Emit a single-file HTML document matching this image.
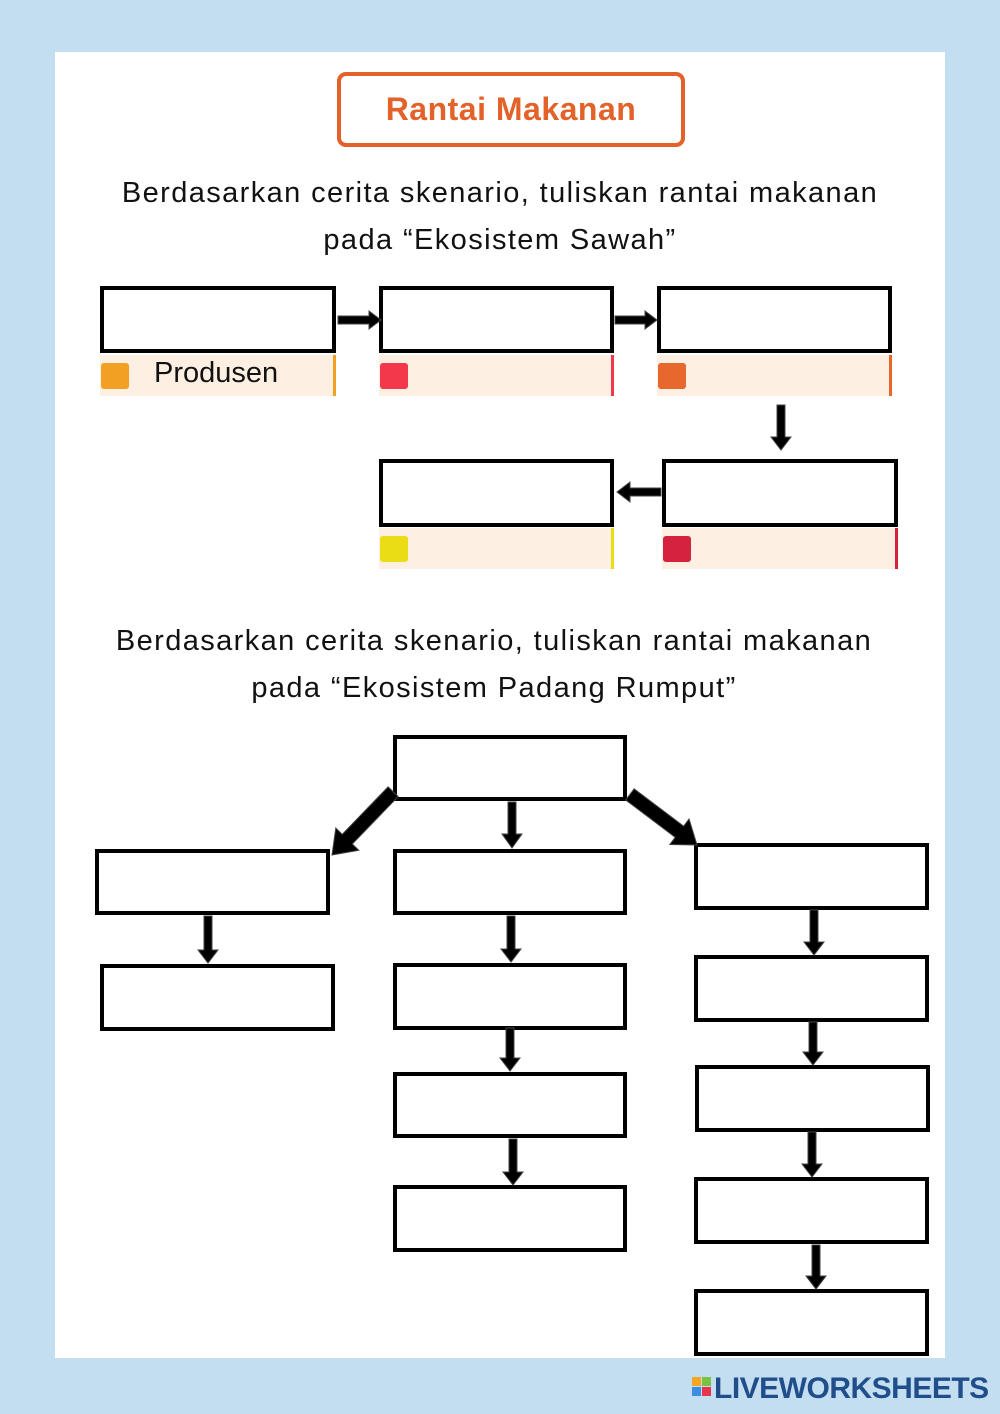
<!DOCTYPE html>
<html><head><meta charset="utf-8"><style>
html,body{margin:0;padding:0}
body{width:1000px;height:1414px;background:#c3ddf1;position:relative;overflow:hidden;font-family:"Liberation Sans",sans-serif}
.panel{position:absolute;left:55px;top:52px;width:890px;height:1306px;background:#fff}
.b{position:absolute;border:4px solid #000;box-sizing:border-box;background:#fff}
.lab{position:absolute;background:#fdf0e2;height:41px;box-sizing:border-box}
.sq{position:absolute;left:1px;top:8px;width:28px;height:26px;border-radius:3px}
.bar{position:absolute;right:0;top:0;width:3px;height:41px}
.t{position:absolute;left:0;width:1000px;text-align:center;font-size:29px;letter-spacing:1.4px;color:#111;line-height:47px}
</style></head><body>
<div class="panel"></div>
<div style="position:absolute;left:337px;top:72px;width:348px;height:75px;border:4px solid #e2622a;border-radius:9px;box-sizing:border-box;text-align:center;line-height:67px;color:#e2622a;font-weight:bold;font-size:32px;letter-spacing:0.5px">Rantai Makanan</div>
<div class="t" style="top:170px">Berdasarkan cerita skenario, tuliskan rantai makanan<br>pada “Ekosistem Sawah”</div>
<div class="t" style="top:618px;left:-6px">Berdasarkan cerita skenario, tuliskan rantai makanan<br>pada “Ekosistem Padang Rumput”</div>

<div class="b" style="left:100px;top:286px;width:236px;height:67px"></div>
<div class="b" style="left:379px;top:286px;width:235px;height:67px"></div>
<div class="b" style="left:657px;top:286px;width:235px;height:67px"></div>
<div class="lab" style="left:100px;top:355px;width:236px"><div class="sq" style="background:#f2a024"></div><div class="bar" style="background:#f2a024"></div><span style="position:absolute;left:54px;top:2px;font-size:29px;color:#111">Produsen</span></div>
<div class="lab" style="left:379px;top:355px;width:235px"><div class="sq" style="background:#f2384a"></div><div class="bar" style="background:#f2384a"></div></div>
<div class="lab" style="left:657px;top:355px;width:235px"><div class="sq" style="background:#e8672c"></div><div class="bar" style="background:#e8672c"></div></div>

<div class="b" style="left:379px;top:459px;width:235px;height:68px"></div>
<div class="b" style="left:662px;top:459px;width:236px;height:68px"></div>
<div class="lab" style="left:379px;top:528px;width:235px"><div class="sq" style="background:#ebdd15"></div><div class="bar" style="background:#ebdd15"></div></div>
<div class="lab" style="left:662px;top:528px;width:236px"><div class="sq" style="background:#d4223f"></div><div class="bar" style="background:#d4223f"></div></div>

<div class="b" style="left:393px;top:735px;width:234px;height:66px"></div>
<div class="b" style="left:95px;top:849px;width:235px;height:66px"></div>
<div class="b" style="left:100px;top:964px;width:235px;height:67px"></div>
<div class="b" style="left:393px;top:849px;width:234px;height:66px"></div>
<div class="b" style="left:393px;top:963px;width:234px;height:67px"></div>
<div class="b" style="left:393px;top:1072px;width:234px;height:66px"></div>
<div class="b" style="left:393px;top:1185px;width:234px;height:67px"></div>
<div class="b" style="left:694px;top:843px;width:235px;height:67px"></div>
<div class="b" style="left:694px;top:955px;width:235px;height:67px"></div>
<div class="b" style="left:695px;top:1065px;width:235px;height:67px"></div>
<div class="b" style="left:694px;top:1177px;width:235px;height:67px"></div>
<div class="b" style="left:694px;top:1289px;width:235px;height:67px"></div>

<svg width="1000" height="1414" style="position:absolute;left:0;top:0" xmlns="http://www.w3.org/2000/svg">
<g fill="#000" stroke="#444" stroke-width="1">
<polygon points="338,316 369,316 369,311 381,320 369,329 369,324 338,324"/>
<polygon points="615,316 645,316 645,311 657,320 645,329 645,324 615,324"/>
<polygon points="777,405 785,405 785,437 791,437 781,450 771,437 777,437"/>
<polygon points="661,488 630,488 630,482 617,492 630,502 630,496 661,496"/>
<polygon points="508,802 516,802 516,834 522,834 512,848 502,834 508,834"/>
<g transform="translate(332,855) rotate(-46)"><polygon points="0,0 22,-16 22,-7 88,-7 88,7 22,7 22,16"/></g>
<g transform="translate(697,845) rotate(217)"><polygon points="0,0 22,-16 22,-7 84,-7 84,7 22,7 22,16"/></g>
<polygon points="204,916 212,916 212,950 218,950 208,963 198,950 204,950"/>
<polygon points="507,916 515,916 515,949 521,949 511,962 501,949 507,949"/>
<polygon points="506,1028 514,1028 514,1058 520,1058 510,1071 500,1058 506,1058"/>
<polygon points="509,1139 517,1139 517,1172 523,1172 513,1185 503,1172 509,1172"/>
<polygon points="810,910 818,910 818,942 824,942 814,955 804,942 810,942"/>
<polygon points="809,1022 817,1022 817,1052 823,1052 813,1065 803,1052 809,1052"/>
<polygon points="808,1132 816,1132 816,1164 822,1164 812,1177 802,1164 808,1164"/>
<polygon points="812,1245 820,1245 820,1276 826,1276 816,1289 806,1276 812,1276"/>
</g>
</svg>
<div style="position:absolute;left:692px;top:1377px;width:30px;height:26px">
<div style="position:absolute;left:0;top:0;width:9px;height:9px;background:#f5a623"></div>
<div style="position:absolute;left:10px;top:0;width:9px;height:9px;background:#7cc242"></div>
<div style="position:absolute;left:0;top:10px;width:9px;height:9px;background:#3b8ee0"></div>
<div style="position:absolute;left:10px;top:10px;width:9px;height:9px;background:#e8344a"></div>
</div>
<div style="position:absolute;left:714px;top:1372px;font-size:30px;font-weight:bold;color:#1f4e8a;letter-spacing:-0.5px">LIVEWORKSHEETS</div>
</body></html>
